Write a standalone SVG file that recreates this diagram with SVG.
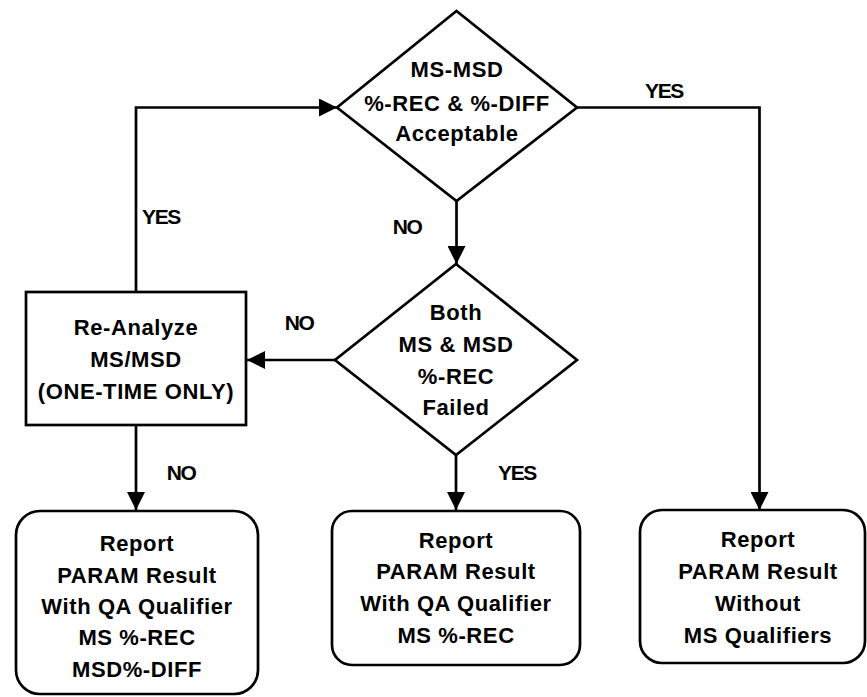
<svg xmlns="http://www.w3.org/2000/svg" width="867" height="697" viewBox="0 0 867 697">
<style>
.shape{fill:#fff;stroke:#000;stroke-width:2.7}
.conn{fill:none;stroke:#000;stroke-width:2.7}
.t{font-family:"Liberation Sans",Arial,sans-serif;font-weight:bold;font-size:22px;letter-spacing:0.6px;text-anchor:middle;fill:#000}
.lbl{font-family:"Liberation Sans",Arial,sans-serif;font-weight:bold;font-size:21px;letter-spacing:-1.4px;text-anchor:middle;fill:#000}
</style>
<defs>
<marker id="ah" markerUnits="userSpaceOnUse" markerWidth="18" markerHeight="18" refX="18" refY="9" orient="auto" viewBox="0 0 18 18">
<path d="M0,0 L18,9 L0,18 z" fill="#000"/>
</marker>
</defs>
<rect width="867" height="697" fill="#fff"/>
<g id="connectors">
<path class="conn" d="M136,292 V107.5 H337" marker-end="url(#ah)"/>
<path class="conn" d="M577,107.5 H759.5 V510" marker-end="url(#ah)"/>
<path class="conn" d="M456.5,201 V264" marker-end="url(#ah)"/>
<path class="conn" d="M335,360 H247" marker-end="url(#ah)"/>
<path class="conn" d="M136,425 V510" marker-end="url(#ah)"/>
<path class="conn" d="M456,455 V510" marker-end="url(#ah)"/>
<text class="lbl" x="664" y="98">YES</text>
<text class="lbl" x="161" y="224">YES</text>
<text class="lbl" x="407" y="234">NO</text>
<text class="lbl" x="299" y="330">NO</text>
<text class="lbl" x="181" y="480">NO</text>
<text class="lbl" x="517" y="480">YES</text>
</g>
<g id="decision1">
<polygon class="shape" points="456.5,11 577,107.5 456.5,201 337,107.5"/>
<text class="t" x="457" y="77">MS-MSD</text>
<text class="t" x="457" y="110.5">%-REC &amp; %-DIFF</text>
<text class="t" x="457" y="140.5">Acceptable</text>
</g>
<g id="decision2">
<polygon class="shape" points="456,264 577,360 456,455 335,360"/>
<text class="t" x="456" y="320">Both</text>
<text class="t" x="456" y="352">MS &amp; MSD</text>
<text class="t" x="456" y="384">%-REC</text>
<text class="t" x="456" y="415">Failed</text>
</g>
<g id="reanalyze">
<rect class="shape" x="26" y="292" width="220" height="133"/>
<text class="t" x="136" y="335">Re-Analyze</text>
<text class="t" x="136" y="367">MS/MSD</text>
<text class="t" x="136" y="399">(ONE-TIME ONLY)</text>
</g>
<g id="report1">
<rect class="shape" x="16" y="511" width="242" height="183" rx="24"/>
<text class="t" x="137" y="551">Report</text>
<text class="t" x="137" y="583">PARAM Result</text>
<text class="t" x="137" y="614">With QA Qualifier</text>
<text class="t" x="137" y="645">MS %-REC</text>
<text class="t" x="137" y="676.5">MSD%-DIFF</text>
</g>
<g id="report2">
<rect class="shape" x="332" y="511" width="248" height="154" rx="20"/>
<text class="t" x="456" y="547.5">Report</text>
<text class="t" x="456" y="579">PARAM Result</text>
<text class="t" x="456" y="611">With QA Qualifier</text>
<text class="t" x="456" y="642.5">MS %-REC</text>
</g>
<g id="report3">
<rect class="shape" x="640" y="510" width="225" height="153" rx="22"/>
<text class="t" x="758" y="546.5">Report</text>
<text class="t" x="758" y="578.5">PARAM Result</text>
<text class="t" x="758" y="610.5">Without</text>
<text class="t" x="758" y="642.5">MS Qualifiers</text>
</g>
</svg>
